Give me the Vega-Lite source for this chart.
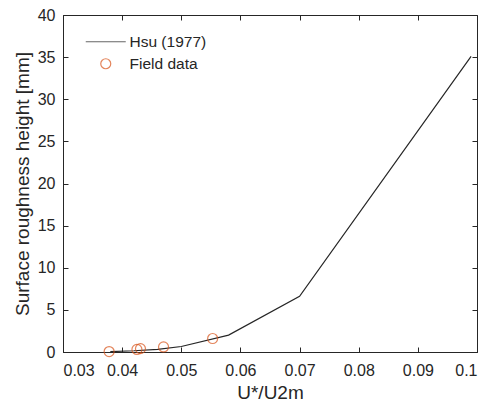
{
  "$schema": "https://vega.github.io/schema/vega-lite/v6.json",
  "width": 414,
  "height": 337,
  "autosize": "none",
  "padding": {"left": 63, "top": 15, "right": 11, "bottom": 52},
  "background": "white",
  "config": {
    "font": "Liberation Sans",
    "view": {"stroke": "#262626", "strokeWidth": 1},
    "axis": {
      "grid": false,
      "domainColor": "#262626",
      "tickColor": "#262626",
      "labelColor": "#262626",
      "titleColor": "#262626",
      "labelFont": "Liberation Sans",
      "titleFont": "Liberation Sans",
      "labelFontSize": 16,
      "titleFontSize": 19,
      "titleFontWeight": "normal",
      "tickSize": -5
    },
    "legend": {
      "orient": "none", "legendX": 35, "legendY": 19, "title": null,
      "labelFont": "Liberation Sans",
      "labelFontSize": 15.5, "labelColor": "#262626", "labelOffset": 16,
      "symbolSize": 100, "symbolStrokeWidth": 1.2, "symbolFillColor": "transparent", "rowPadding": 5
    }
  },
  "datasets": {
    "hsu": [
      {"x": 0.038, "y": 0.05, "series": "Hsu (1977)"},
      {"x": 0.042, "y": 0.15, "series": "Hsu (1977)"},
      {"x": 0.046, "y": 0.32, "series": "Hsu (1977)"},
      {"x": 0.05, "y": 0.65, "series": "Hsu (1977)"},
      {"x": 0.058, "y": 2.0, "series": "Hsu (1977)"},
      {"x": 0.07, "y": 6.6, "series": "Hsu (1977)"},
      {"x": 0.099, "y": 35.1, "series": "Hsu (1977)"}
    ],
    "field": [
      {"x": 0.0378, "y": 0.05, "series": "Field data"},
      {"x": 0.0425, "y": 0.3, "series": "Field data"},
      {"x": 0.0431, "y": 0.4, "series": "Field data"},
      {"x": 0.047, "y": 0.6, "series": "Field data"},
      {"x": 0.0553, "y": 1.6, "series": "Field data"}
    ]
  },
  "layer": [
    {
      "data": {"name": "hsu"},
      "mark": {"type": "line", "strokeWidth": 1.2},
      "encoding": {
        "x": {"field": "x", "type": "quantitative", "scale": {"domain": [0.03, 0.1], "nice": false},
              "axis": {"orient": "bottom", "values": [0.03,0.04,0.05,0.06,0.07,0.08,0.09,0.1], "format": "~g", "title": "U*/U2m", "labelPadding": 15, "titleY": 46, "titleBaseline": "alphabetic"}},
        "y": {"field": "y", "type": "quantitative", "scale": {"domain": [0, 40], "nice": false},
              "axis": {"orient": "left", "values": [0,5,10,15,20,25,30,35,40], "title": "Surface roughness height [mm]", "labelPadding": 13, "titleX": -35, "titleBaseline": "alphabetic"}},
        "color": {"field": "series", "type": "nominal",
                  "scale": {"domain": ["Hsu (1977)", "Field data"], "range": ["#262626", "#D95319"]}}
      }
    },
    {
      "data": {"name": "field"},
      "mark": {"type": "point", "filled": false, "size": 100, "strokeWidth": 1.2},
      "encoding": {
        "x": {"field": "x", "type": "quantitative", "axis": {"orient": "top", "labels": false, "title": null, "values": [0.03,0.04,0.05,0.06,0.07,0.08,0.09,0.1], "domain": false}},
        "y": {"field": "y", "type": "quantitative", "axis": {"orient": "right", "labels": false, "title": null, "values": [0,5,10,15,20,25,30,35,40], "domain": false}},
        "color": {"field": "series", "type": "nominal"},
        "shape": {"field": "series", "type": "nominal",
                  "scale": {"domain": ["Hsu (1977)", "Field data"], "range": ["M-4,0L4,0", "circle"]}}
      }
    }
  ],
  "resolve": {"axis": {"x": "independent", "y": "independent"}}
}
